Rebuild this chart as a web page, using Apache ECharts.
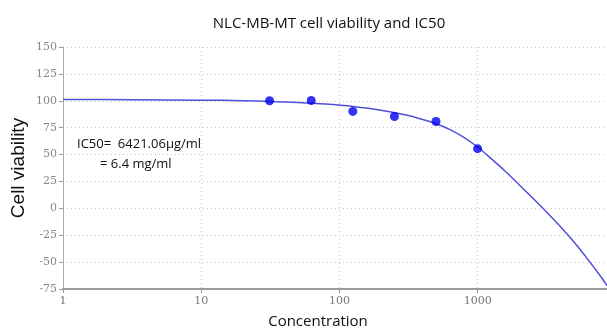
<!DOCTYPE html>
<html>
<head>
<meta charset="utf-8">
<script src="https://cdn.jsdelivr.net/npm/echarts@6/dist/echarts.min.js"></script>
<style>html,body{margin:0;padding:0;background:#fff}#c{width:607px;height:330px}</style>
</head>
<body>
<div id="c"></div>
<script>
// Measured data points (concentration, cell viability %)
var concentrations = [31.25, 62.5, 125, 250, 500, 1000];
var viability = [100.0, 100.3, 90.1, 85.4, 80.7, 55.5];
// Fitted curve
var curveConc = [1, 3.162, 10, 19.95, 31.62, 50.12, 79.43, 125.9, 199.5, 316.2, 398.1, 501.2, 631.0, 794.3, 1000, 1259, 1585, 1995, 2512, 3162, 3981, 5012, 6310, 7943, 8630];
var curveVal  = [101.2, 101.0, 100.6, 100.1, 99.4, 98.4, 96.9, 94.6, 91.2, 86.3, 82.6, 78.6, 73.2, 66.0, 57.0, 46.0, 34.5, 22.0, 9.3, -3.6, -17.2, -31.8, -47.9, -65.0, -71.8];
var yTicks = [-75, 150, 25];
var xRange = [1, 8630];
var titleText = 'NLC-MB-MT cell viability and IC50';
var ic50Lines = ['IC50=  6421.06\u00b5g/ml', '= 6.4 mg/ml'];

var chart = echarts.init(document.getElementById('c'), null, {renderer: 'canvas'});
var pts = concentrations.map(function (c, i) { return [c, viability[i]]; });
var curve = curveConc.map(function (c, i) { return [c, curveVal[i]]; });

chart.setOption({
  animation: false,
  backgroundColor: '#fff',
  title: {
    text: titleText, left: 324, top: 11, textAlign: 'center',
    textStyle: {fontFamily: 'Open Sans', fontSize: 15, fontWeight: 'normal', color: '#111'}
  },
  grid: {left: 63, top: 47, right: 0, bottom: 41, containLabel: false, outerBoundsMode: 'none'},
  xAxis: {
    type: 'log', logBase: 10, min: xRange[0], max: xRange[1],
    name: 'Concentration', nameLocation: 'middle', nameGap: 25,
    nameTextStyle: {fontFamily: 'Open Sans', fontSize: 15, color: '#111', padding: [0, 34, 0, 0]},
    axisLine: {show: true, onZero: false, lineStyle: {color: '#9a9a9a', width: 2}},
    axisTick: {show: true, length: 4, lineStyle: {color: '#999'}},
    axisLabel: {
      color: '#777', fontFamily: 'DejaVu Serif', fontSize: 11, margin: 7,
      showMaxLabel: false,
      formatter: function (v) { return String(Math.round(v)); }
    },
    splitLine: {show: true, lineStyle: {color: '#c8c8c8', type: [1, 3], width: 1}},
    minorTick: {show: false}
  },
  yAxis: {
    type: 'value', min: yTicks[0], max: yTicks[1], interval: yTicks[2],
    name: 'Cell viability', nameLocation: 'middle', nameGap: 35, nameRotate: 90,
    nameMoveOverlap: false,
    nameTextStyle: {fontFamily: 'Liberation Sans', fontSize: 19, color: '#111'},
    axisLine: {show: true, lineStyle: {color: '#aaa', width: 1}},
    axisTick: {show: true, length: 4, lineStyle: {color: '#999'}},
    axisLabel: {color: '#888', fontFamily: 'DejaVu Serif', fontSize: 11, margin: 6},
    splitLine: {show: true, lineStyle: {color: '#c8c8c8', type: [1, 3], width: 1}}
  },
  graphic: [
    {type: 'text', left: 77, top: 138, style: {text: ic50Lines[0], fontFamily: 'Open Sans', fontSize: 13, fill: '#111'}},
    {type: 'text', left: 100, top: 158, style: {text: ic50Lines[1], fontFamily: 'Open Sans', fontSize: 13, fill: '#111'}}
  ],
  series: [
    {
      type: 'line', data: curve, smooth: 0.3, showSymbol: false, symbol: 'none',
      lineStyle: {color: '#5050dc', width: 1.5}, z: 2
    },
    {
      type: 'scatter', data: pts, symbol: 'circle', symbolSize: 9,
      itemStyle: {color: '#0000ee'}, z: 3
    }
  ]
});
</script>
</body>
</html>
